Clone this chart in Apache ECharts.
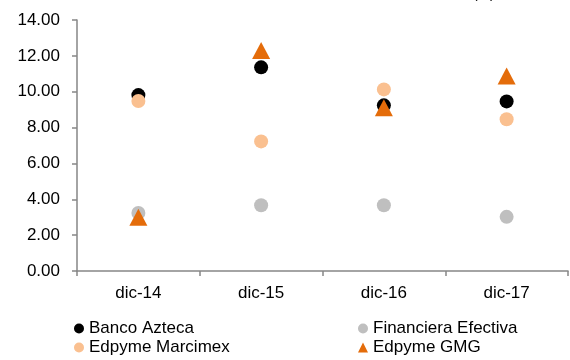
<!DOCTYPE html>
<html>
<head>
<meta charset="utf-8">
<style>
  html, body { margin: 0; padding: 0; background: #ffffff; }
  #chart { width: 570px; height: 360px; }
</style>
<script src="https://cdn.jsdelivr.net/npm/echarts@6/dist/echarts.min.js"></script>
</head>
<body>
<div id="chart"></div>
<script>
// Periods on the horizontal axis
const categories = ['dic-14', 'dic-15', 'dic-16', 'dic-17'];

// Values per institution (%)
const bancoAzteca        = [9.81, 11.36, 9.24, 9.46];
const financieraEfectiva = [3.24, 3.67, 3.67, 3.02];
const edpymeMarcimex     = [9.48, 7.23, 10.13, 8.46];
const edpymeGMG          = [3.0, 12.3, 9.1, 10.88];

// Vertical axis range
const yMin = 0, yMax = 14, yStep = 2;

const FONT = 'Liberation Sans, Arial, sans-serif';
const AXIS_GRAY = '#868686';

const chart = echarts.init(document.getElementById('chart'), null, { renderer: 'canvas' });

function legendAt(name, icon, left, top) {
  return {
    data: [{ name: name, icon: icon }],
    left: left,
    top: top,
    padding: 0,
    itemWidth: 10,
    itemHeight: 10,
    itemGap: 0,
    selectedMode: false,
    textStyle: { fontFamily: FONT, fontSize: 17, color: '#000000', padding: [0, 0, 0, 0] }
  };
}

const option = {
  animation: false,
  backgroundColor: '#ffffff',
  textStyle: { fontFamily: FONT },
  grid: { left: 77, right: 2, top: 20, bottom: 89, containLabel: false },
  graphic: [{
    type: 'text',
    left: 473,
    top: -13,
    style: { text: '(%)', font: '14px ' + FONT, fill: '#000000' }
  }],
  legend: [
    legendAt('Banco Azteca', 'circle', 74, 320),
    legendAt('Financiera Efectiva', 'circle', 358, 320),
    legendAt('Edpyme Marcimex', 'circle', 74, 339),
    legendAt('Edpyme GMG', 'triangle', 358, 339)
  ],
  xAxis: {
    type: 'category',
    data: categories,
    boundaryGap: true,
    axisLine: { lineStyle: { color: AXIS_GRAY, width: 1.5 } },
    axisTick: { show: true, alignWithLabel: false, length: 5, lineStyle: { color: AXIS_GRAY, width: 1.5 } },
    axisLabel: { color: '#000000', fontSize: 17, fontFamily: FONT, margin: 14 },
    splitLine: { show: false }
  },
  yAxis: {
    type: 'value',
    min: yMin,
    max: yMax,
    interval: yStep,
    axisLine: { show: true, lineStyle: { color: AXIS_GRAY, width: 1.5 } },
    axisTick: { show: true, length: 5, lineStyle: { color: AXIS_GRAY, width: 1.5 } },
    axisLabel: {
      color: '#000000', fontSize: 17, fontFamily: FONT, margin: 17,
      formatter: v => v.toFixed(2)
    },
    splitLine: { show: false }
  },
  series: [
    {
      name: 'Banco Azteca', type: 'scatter', data: bancoAzteca,
      symbol: 'circle', symbolSize: 14, itemStyle: { color: '#000000', opacity: 1 }, z: 2
    },
    {
      name: 'Financiera Efectiva', type: 'scatter', data: financieraEfectiva,
      symbol: 'circle', symbolSize: 14, itemStyle: { color: '#BFBFBF', opacity: 1 }, z: 3
    },
    {
      name: 'Edpyme Marcimex', type: 'scatter', data: edpymeMarcimex,
      symbol: 'circle', symbolSize: 14, itemStyle: { color: '#FAC090', opacity: 1 }, z: 4
    },
    {
      name: 'Edpyme GMG', type: 'scatter', data: edpymeGMG,
      symbol: 'triangle', symbolSize: [18, 17], itemStyle: { color: '#E46C0A', opacity: 1 }, z: 5
    }
  ]
};

chart.setOption(option);
</script>
</body>
</html>
